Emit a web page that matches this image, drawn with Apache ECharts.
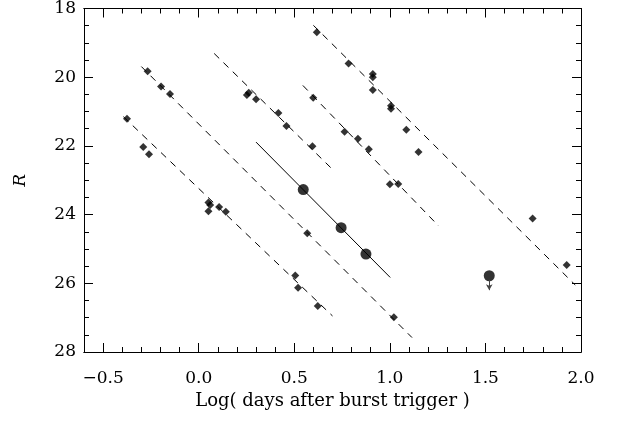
<!DOCTYPE html>
<html><head><meta charset="utf-8">
<script src="https://cdn.jsdelivr.net/npm/echarts@6/dist/echarts.min.js"></script>
<style>html,body{margin:0;padding:0;background:#fff}#c{width:618px;height:421px}</style>
</head><body><div id="c"></div>
<script>
// ---- data ----
const xMajorTicks = [-0.5, 0, 0.5, 1.0, 1.5, 2.0];
const xMinorTicks = [-0.4, -0.3, -0.2, -0.1, 0.1, 0.2, 0.3, 0.4, 0.6, 0.7, 0.8, 0.9, 1.1, 1.2, 1.3, 1.4, 1.6, 1.7, 1.8, 1.9];
const diamondPoints = [
  [-0.375, 21.21], [-0.29, 22.03], [-0.26, 22.24],
  [-0.267, 19.83], [-0.197, 20.27], [-0.15, 20.49],
  [0.051, 23.65], [0.06, 23.72], [0.051, 23.90], [0.107, 23.78], [0.142, 23.92],
  [0.252, 20.52], [0.262, 20.45], [0.300, 20.64],
  [0.417, 21.04], [0.459, 21.42], [0.595, 22.01], [0.599, 20.60],
  [0.505, 25.77], [0.52, 26.13], [0.623, 26.66], [0.568, 24.54],
  [0.618, 18.69], [0.784, 19.60], [0.911, 19.91], [0.911, 20.00], [0.911, 20.37],
  [1.006, 20.83], [1.006, 20.92], [1.086, 21.53], [1.15, 22.18],
  [0.763, 21.59], [0.833, 21.79], [0.89, 22.10], [1.0, 23.12], [1.044, 23.11],
  [1.021, 26.99], [1.747, 24.11], [1.925, 25.47]
];
const circlePoints = [[0.547, 23.27], [0.745, 24.38], [0.875, 25.15], [1.52, 25.78]];
const upperLimitArrow = [[1.52, 25.9], [1.52, 26.2]];
const dashedLines = [
  [[-0.394, 21.15], [0.70, 26.95]],
  [[-0.30, 19.69], [1.116, 27.58]],
  [[0.081, 19.31], [0.692, 22.64]],
  [[0.545, 20.24], [1.255, 24.33]],
  [[0.60, 18.49], [1.97, 26.05]]
];
const solidLine = [[0.30, 21.89], [1.002, 25.83]];

// ---- chart ----
const FONT = 'DejaVu Serif';
const black = '#000';
const fmtX = v => (v < 0 ? '\u2212' : '') + Math.abs(v).toFixed(1);

function xAx(pos, ticks, len, labels) {
  return {
    type: 'value', position: pos, min: -0.6, max: 2.0,
    axisLine: { show: true, onZero: false, lineStyle: { color: black, width: 1 } },
    axisTick: { show: true, inside: true, length: len, customValues: ticks, lineStyle: { color: black } },
    axisLabel: labels ? { show: true, customValues: xMajorTicks, formatter: fmtX, margin: 18,
      fontFamily: FONT, fontSize: 17, color: black } : { show: false },
    splitLine: { show: false },
    name: labels ? 'Log( days after burst trigger )' : '',
    nameLocation: 'middle', nameGap: 40,
    nameTextStyle: { fontFamily: FONT, fontSize: 18, color: black }
  };
}
function yAx(pos, labels) {
  return {
    type: 'value', position: pos, inverse: true, min: 18, max: 28, interval: 2,
    axisLine: { show: true, onZero: false, lineStyle: { color: black, width: 1 } },
    axisTick: { show: true, inside: true, length: 9, lineStyle: { color: black } },
    minorTick: { show: true, splitNumber: 4, length: 5, lineStyle: { color: black } },
    axisLabel: labels ? { show: true, margin: 8, fontFamily: FONT, fontSize: 17, color: black } : { show: false },
    splitLine: { show: false }, minorSplitLine: { show: false },
    name: labels ? 'R' : '', nameLocation: 'middle', nameGap: 55,
    nameTextStyle: { fontFamily: FONT, fontSize: 17, fontStyle: 'italic', color: black }
  };
}

const series = [];
dashedLines.forEach(seg => series.push({
  type: 'line', data: seg, symbol: 'none', silent: true,
  lineStyle: { color: black, width: 1, type: [7, 6] }
}));
series.push({ type: 'line', data: solidLine, symbol: 'none', silent: true,
  lineStyle: { color: black, width: 1, type: 'solid' } });
series.push({ type: 'scatter', data: diamondPoints, symbol: 'diamond', symbolSize: 8,
  itemStyle: { color: black } });
series.push({ type: 'scatter', data: circlePoints, symbol: 'circle', symbolSize: 11,
  itemStyle: { color: black },
  markLine: { silent: true, symbol: ['none', 'arrow'], symbolSize: [5, 6],
    label: { show: false }, lineStyle: { color: '#444', width: 1, type: 'solid' },
    data: [[{ coord: upperLimitArrow[0] }, { coord: upperLimitArrow[1] }]] } });

const chart = echarts.init(document.getElementById('c'));
chart.setOption({
  animation: false,
  backgroundColor: '#fff',
  grid: { left: 84, right: 37, top: 7, bottom: 69, containLabel: false },
  xAxis: [
    xAx('bottom', xMajorTicks, 9, true),
    xAx('bottom', xMinorTicks, 5, false),
    xAx('top', xMajorTicks, 9, false),
    xAx('top', xMinorTicks, 5, false)
  ],
  yAxis: [yAx('left', true), yAx('right', false)],
  series: series
});
</script></body></html>
